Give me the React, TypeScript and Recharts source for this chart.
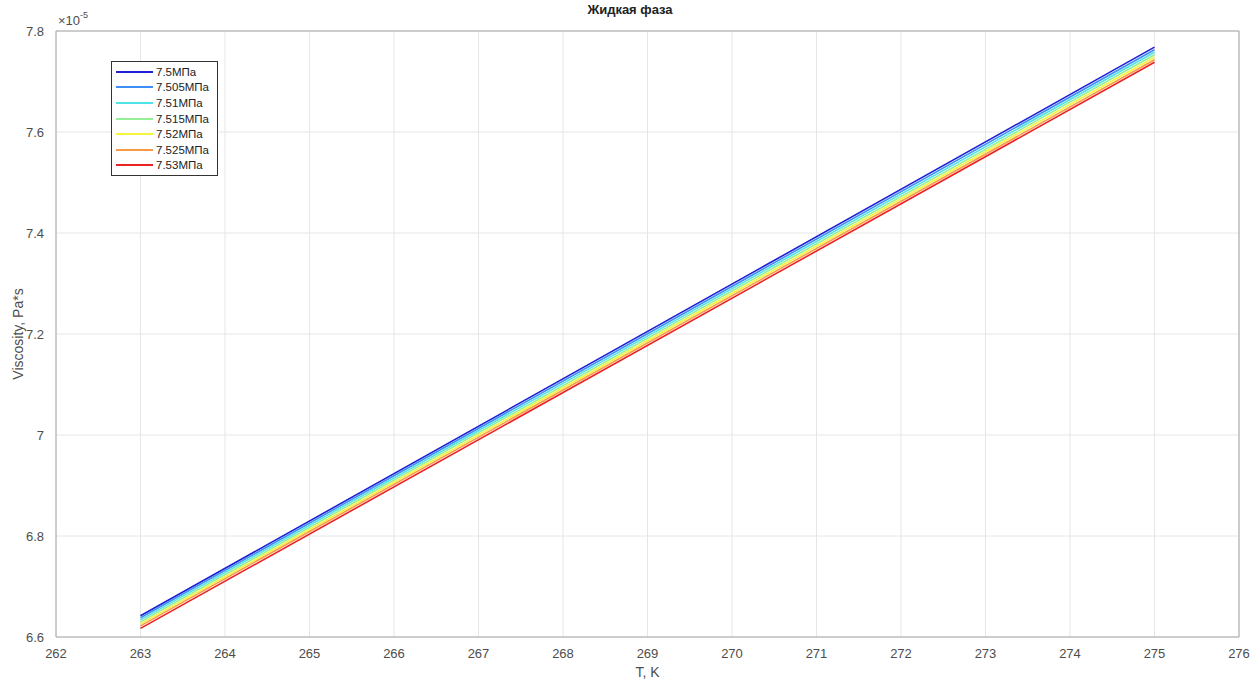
import React from 'react';
import { LineChart, Line, XAxis, YAxis, CartesianGrid, ReferenceLine } from 'recharts';

// temperature, K
const temps = [263, 275];

// viscosity in units of 1e-5 Pa*s, read at T=263 and T=275
const mu750 = [6.642, 7.768];
const mu7505 = [6.638, 7.763];
const mu751 = [6.634, 7.758];
const mu7515 = [6.63, 7.753];
const mu752 = [6.626, 7.748];
const mu7525 = [6.622, 7.743];
const mu753 = [6.617, 7.738];

const xTicks = [262, 263, 264, 265, 266, 267, 268, 269, 270, 271, 272, 273, 274, 275, 276];
const yTicks = [6.6, 6.8, 7.0, 7.2, 7.4, 7.6, 7.8];

const seriesList = [
  { key: 'p1', name: '7.5МПа', values: mu750, color: '#1f1fd6' },
  { key: 'p2', name: '7.505МПа', values: mu7505, color: '#3d8ef5' },
  { key: 'p3', name: '7.51МПа', values: mu751, color: '#4fe3e8' },
  { key: 'p4', name: '7.515МПа', values: mu7515, color: '#96ee96' },
  { key: 'p5', name: '7.52МПа', values: mu752, color: '#f4f43c' },
  { key: 'p6', name: '7.525МПа', values: mu7525, color: '#fb9a44' },
  { key: 'p7', name: '7.53МПа', values: mu753, color: '#ec2222' },
];

const data = temps.map((t, i) => {
  const row: Record<string, number> = { t };
  seriesList.forEach((s) => {
    row[s.key] = s.values[i];
  });
  return row;
});

const font = 'Arial, "Liberation Sans", Helvetica, sans-serif';
const tickStyle = { fontSize: 13, fill: '#4d4d4d', fontFamily: font };
const axisColor = '#a6a6a6';

// legend drawn as an overlay so it doesn't eat into the plot area
const LegendBox = () => (
  <div
    style={{
      position: 'absolute',
      left: 111,
      top: 61,
      border: '1px solid #333',
      background: '#fff',
      padding: '2px 4px',
      fontFamily: font,
      fontSize: 11.5,
      color: '#222',
      width: 97,
    }}
  >
    {seriesList.map((s) => (
      <div key={s.key} style={{ display: 'flex', alignItems: 'center', height: 15.6 }}>
        <div style={{ width: 37, height: 2, background: s.color, marginRight: 3 }} />
        <span>{s.name}</span>
      </div>
    ))}
  </div>
);

const App: React.FC = () => {
  return (
    <div style={{ position: 'absolute', left: 0, top: 0, width: 1253, height: 679, background: '#fff' }}>
      <LineChart
        width={1253}
        height={679}
        data={data}
        margin={{ top: 31, right: 14, bottom: 0, left: 0 }}
      >
        <CartesianGrid stroke="#e6e6e6" />
        <XAxis
          dataKey="t"
          type="number"
          domain={[262, 276]}
          ticks={xTicks}
          height={42}
          tick={tickStyle}
          tickLine={false}
          tickMargin={6}
          stroke={axisColor}
          label={{ value: 'T, K', position: 'insideBottom', offset: 2, style: { ...tickStyle, fontSize: 14 } }}
        />
        <YAxis
          type="number"
          domain={[6.6, 7.8]}
          ticks={yTicks}
          width={56}
          tick={tickStyle}
          tickLine={false}
          tickMargin={6}
          stroke={axisColor}
          tickFormatter={(v: number) => String(Number(v.toFixed(1)))}
          label={{
            value: 'Viscosity, Pa*s',
            angle: -90,
            position: 'insideLeft',
            offset: 18,
            style: { ...tickStyle, fontSize: 14, textAnchor: 'middle' },
          }}
        />
        <ReferenceLine y={7.8} stroke={axisColor} />
        <ReferenceLine x={276} stroke={axisColor} />
        {seriesList.map((s) => (
          <Line
            key={s.key}
            dataKey={s.key}
            name={s.name}
            type="linear"
            stroke={s.color}
            strokeWidth={1.6}
            dot={false}
            isAnimationActive={false}
          />
        ))}
        <text x={630} y={14} textAnchor="middle" fontFamily={font} fontSize={13} fontWeight="bold" fill="#222">
          Жидкая фаза
        </text>
        <text x={58} y={25} fontFamily={font} fontSize={13} fill="#4d4d4d">
          ×10
          <tspan dy={-7} fontSize={9}>-5</tspan>
        </text>
      </LineChart>
      <LegendBox />
    </div>
  );
};

export default App;
